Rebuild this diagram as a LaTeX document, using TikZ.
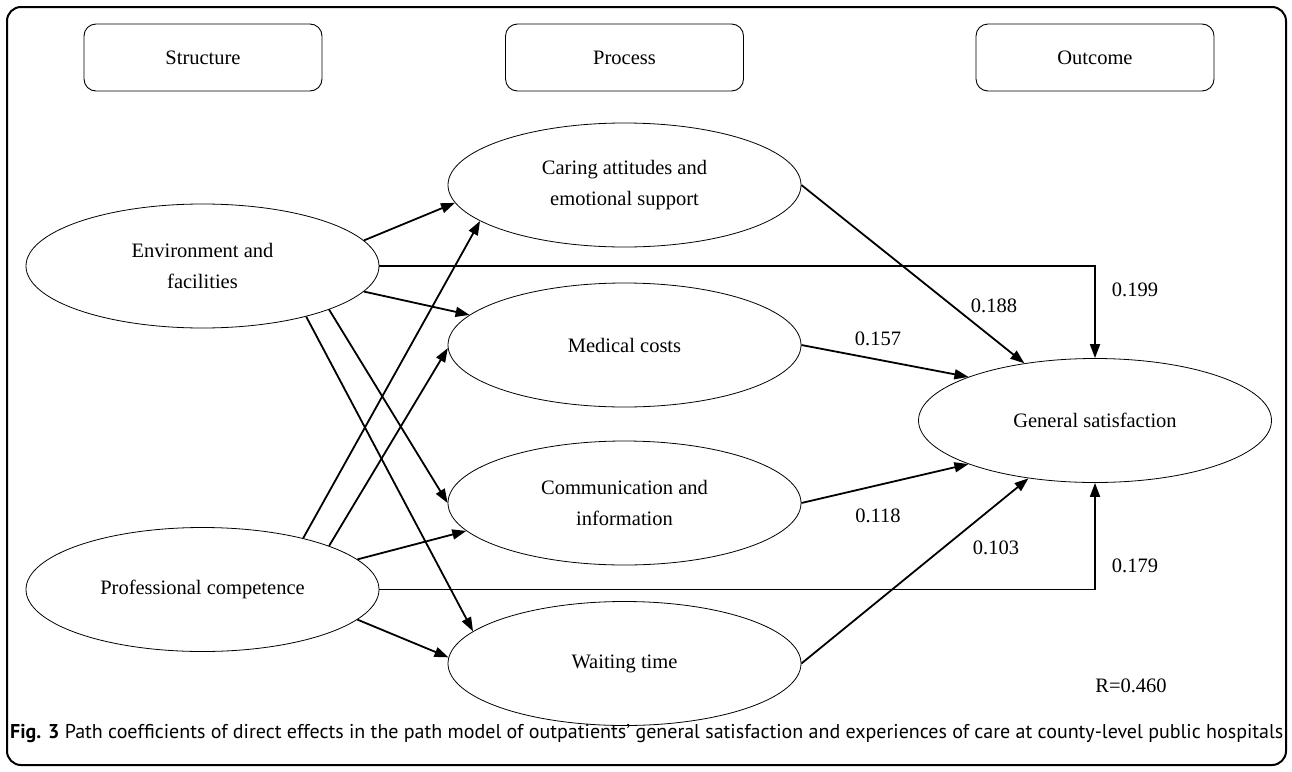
\documentclass[tikz,border=0pt]{standalone}
\usepackage{graphicx}
\usepackage{fontspec}
\setmainfont{Liberation Serif}
\newfontfamily\capfont{PT Sans}
\usetikzlibrary{shapes.geometric,arrows.meta}
\begin{document}
\begin{tikzpicture}[x=1pt,y=-1pt,
  oval/.style={ellipse,draw,line width=0.8pt,minimum width=353pt,minimum height=124pt,inner sep=0pt,align=center,font=\fontsize{20.5}{31}\selectfont},
  hdr/.style={draw,rounded corners=12pt,line width=0.9pt,minimum width=238pt,minimum height=67pt,font=\fontsize{20.5}{31}\selectfont},
  arr/.style={line width=1.8pt,-{Triangle[length=14pt,width=10pt]}},
  lbl/.style={font=\fontsize{20.5}{24}\selectfont}]
\useasboundingbox (0,0) rectangle (1292,771);
\draw[line width=2pt,rounded corners=14pt] (7,7) rectangle (1286,765);

\node[hdr] (hs) at (203,57.5) {Structure};
\node[hdr] (hp) at (624.5,57.5) {Process};
\node[hdr] (ho) at (1095,57.5) {Outcome};

\node[oval] (env) at (202.5,266) {Environment and\\facilities};
\node[oval] (prof) at (202.5,589.5) {Professional competence};
\node[oval] (car) at (624.5,185) {Caring attitudes and\\emotional support};
\node[oval] (med) at (624.5,345) {Medical costs};
\node[oval] (com) at (624.5,503) {Communication and\\information};
\node[oval] (wait) at (624.5,663.5) {Waiting time};
\node[oval] (gen) at (1095,420.5) {General satisfaction};

\draw[arr] (env.9.2) -- (car.186.9);
\draw[arr] (env.-9.1) -- (med.169.2);
\draw[arr] (env.-19.3) -- (com.180);
\draw[arr] (env.-26.5) -- (wait.168.3);
\draw[arr] (env.east) -| (gen.north);
\draw[arr] (prof.27.1) -- (car.194.1);
\draw[arr] (prof.19.5) -- (med.181.3);
\draw[arr] (prof.11.2) -- (com.190.2);
\draw[arr] (prof.-11.2) -- (wait.178.9);
\draw[arr] (prof.east) -| (gen.south);
\draw[arr] (car.0) -- (gen.141.8);
\draw[arr] (med.0) -- (gen.161.1);
\draw[arr] (com.0) -- (gen.199.2);
\draw[arr] (wait.0) -- (gen.221.1);

\node[lbl] (l188) at (994,306) {0.188};
\node[lbl] (l157) at (878,339) {0.157};
\node[lbl] (l199) at (1135,290) {0.199};
\node[lbl] (l118) at (878,516) {0.118};
\node[lbl] (l103) at (996,548) {0.103};
\node[lbl] (l179) at (1135,566) {0.179};
\node[lbl] (rval) at (1131,686) {R=0.460};

\node[anchor=base west,inner sep=0pt] (cap) at (10,738) {\resizebox{1273pt}{!}{\capfont\textbf{Fig. 3} Path coefficients of direct effects in the path model of outpatients’ general satisfaction and experiences of care at county-level public hospitals}};
\end{tikzpicture}
\end{document}
